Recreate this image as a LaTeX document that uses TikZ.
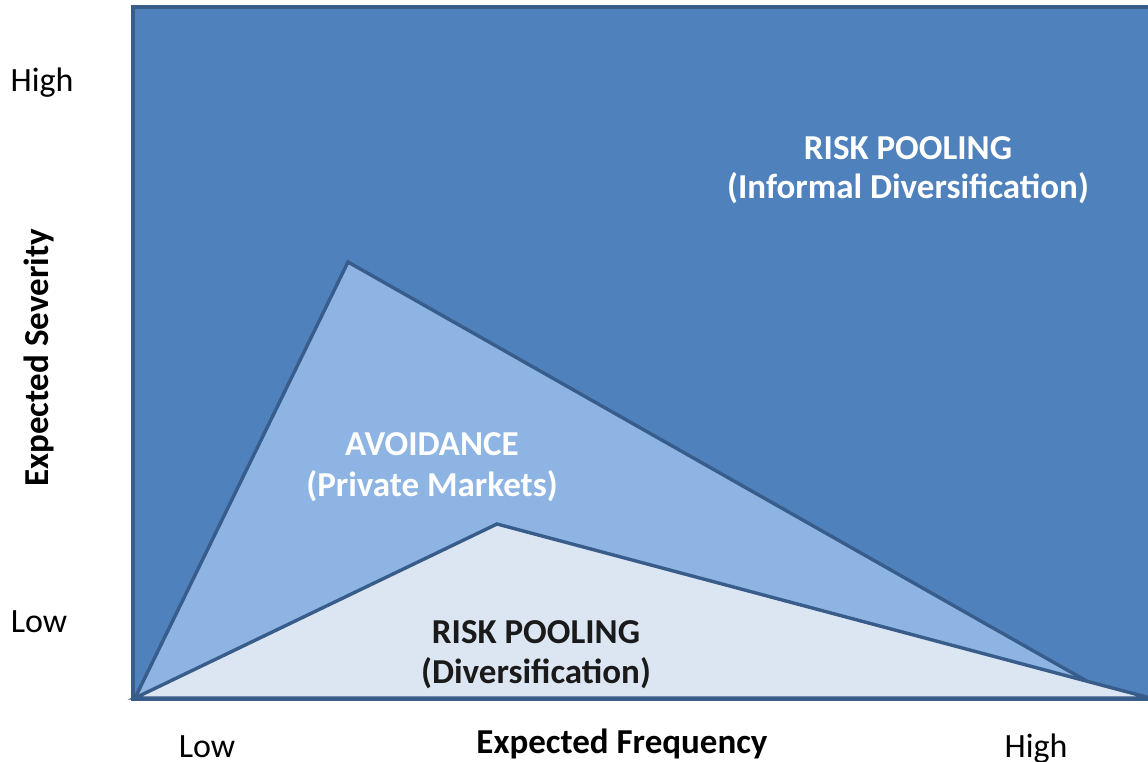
\documentclass[tikz,border=0pt]{standalone}
\usepackage{fontspec}
\setmainfont{Carlito}
\definecolor{darkfill}{HTML}{4F81BD}
\definecolor{midfill}{HTML}{8EB4E3}
\definecolor{lightfill}{HTML}{DCE6F2}
\definecolor{edge}{HTML}{385D8A}
\definecolor{darktext}{HTML}{1A1A1A}
\tikzset{
  region/.style={draw=edge, line width=3.4pt, line join=miter},
  lbl/.style={font=\fontsize{34}{40}\selectfont, text=black, inner sep=0pt, anchor=base},
  blbl/.style={font=\fontsize{35}{42}\selectfont\bfseries, inner sep=0pt, anchor=base},
}
\begin{document}
\begin{tikzpicture}[x=1pt,y=-1pt]
\useasboundingbox (0,0) rectangle (1148,762);
\begin{scope}
\clip (0,0) rectangle (1148,762);
\draw[region, fill=darkfill] (133,7) rectangle (1160,699);
\draw[region, fill=midfill] (135,698) -- (348,262) -- (1090,683) -- cycle;
\draw[region, fill=lightfill] (135,698) -- (497,524) -- (1150,698) -- cycle;
\draw[edge, line width=4pt] (133,699) -- (1160,699);
\end{scope}
\node[blbl, text=white] (rp1) at (908,160) {RISK POOLING};
\node[blbl, text=white] (rp2) at (908,199) {(Informal Diversification)};
\node[blbl, text=white] (av1) at (432,455) {AVOIDANCE};
\node[blbl, text=white] (av2) at (432,496) {(Private Markets)};
\node[blbl, text=darktext] (d1) at (536,643) {RISK POOLING};
\node[blbl, text=darktext] (d2) at (536,683) {(Diversification)};
\node[lbl] (yhigh) at (42,92) {High};
\node[lbl] (ylow) at (39,632) {Low};
\node[blbl, text=black, rotate=90] (ylab) at (48,358) {Expected Severity};
\node[lbl] (xlow) at (207,757) {Low};
\node[lbl] (xhigh) at (1036,757) {High};
\node[blbl, text=black] (xlab) at (622,753) {Expected Frequency};
\end{tikzpicture}
\end{document}
